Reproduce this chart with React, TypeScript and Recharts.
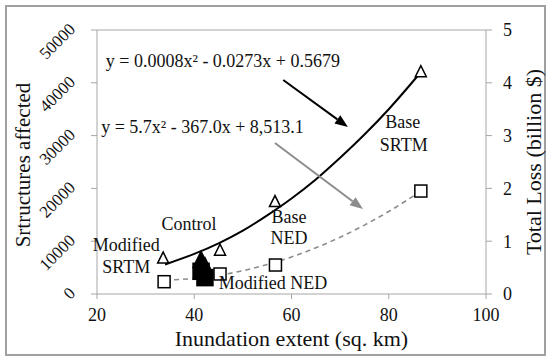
import React from "react";
import {
    ComposedChart,
    Line,
    ReferenceDot,
    ReferenceLine,
    Scatter,
    XAxis,
    YAxis,
} from "recharts";

// tick labels
const xTicks = [20, 40, 60, 80, 100];
const structTicks = [0, 10000, 20000, 30000, 40000, 50000];
const lossTicks = [0, 1, 2, 3, 4, 5];

// total loss (triangles, right axis)
const lossX = [33.6, 45.3, 56.6, 86.6];
const lossY = [0.68, 0.83, 1.75, 4.21];

// structures affected (squares, left axis)
const structX = [33.8, 45.3, 56.7, 86.6];
const structY = [2330, 3790, 5490, 19500];

// control run (filled markers)
const controlX = [41.4, 42.2];
const controlLoss = [0.64, 0.52];
const controlStruct = [4300, 3100];

// fitted trend lines
const fitX = [34, 40, 45, 50, 55, 60, 65, 70, 75, 80, 86.5];
const lossFit = [0.56, 0.76, 0.96, 1.2, 1.49, 1.81, 2.17, 2.58, 3.02, 3.5, 4.19];
const structFit = [2620, 2950, 3540, 4410, 5570, 7010, 8740, 10750, 13050, 15630, 19420];

const zip = (xs: number[], ys: number[]) => xs.map((x, i) => ({ x, y: ys[i] }));

const FONT = "'Liberation Serif', 'Times New Roman', serif";
const AXIS = "#a6a6a6";
const INK = "#111";

const Triangle = (props: any) => {
    const { cx, cy, filled, w = 11 } = props;
    return (
        <polygon
            points={`${cx},${cy - w * 0.55} ${cx - w / 2},${cy + w * 0.45} ${cx + w / 2},${cy + w * 0.45}`}
            fill={filled ? "#000" : "#fff"}
            stroke="#000"
            strokeWidth={1.5}
        />
    );
};

const Square = (props: any) => {
    const { cx, cy, filled, w = 12 } = props;
    return (
        <rect
            x={cx - w / 2}
            y={cy - w / 2}
            width={w}
            height={w}
            fill={filled ? "#000" : "#fff"}
            stroke="#000"
            strokeWidth={1.5}
        />
    );
};

const LeftTick = ({ x, y, payload }: any) => {
    const ax = x - 17;
    const ay = y - 4;
    return (
        <text
            x={ax}
            y={ay}
            dy="0.35em"
            textAnchor="end"
            transform={`rotate(-45 ${ax} ${ay})`}
            fill={INK}
            fontSize={17}
            fontFamily={FONT}
        >
            {payload.value}
        </text>
    );
};

const Arrow = (color: string) => (p: any) => {
    const { x1, y1, x2, y2 } = p;
    const ang = Math.atan2(y2 - y1, x2 - x1);
    const len = 13;
    const hw = 5;
    const bx = x2 - len * Math.cos(ang);
    const by = y2 - len * Math.sin(ang);
    const px = -Math.sin(ang) * hw;
    const py = Math.cos(ang) * hw;
    return (
        <g>
            <line x1={x1} y1={y1} x2={bx} y2={by} stroke={color} strokeWidth={2} />
            <polygon
                points={`${x2},${y2} ${bx + px},${by + py} ${bx - px},${by - py}`}
                fill={color}
            />
        </g>
    );
};

const notes = [
    { x: 45.9, y: 44130, text: "y = 0.0008x² - 0.0273x + 0.5679" },
    { x: 41.7, y: 31630, text: "y = 5.7x² - 367.0x + 8,513.1" },
    { x: 82.9, y: 32580, text: "Base" },
    { x: 83.1, y: 28220, text: "SRTM" },
    { x: 59.5, y: 14580, text: "Base" },
    { x: 59.5, y: 10610, text: "NED" },
    { x: 38.9, y: 13260, text: "Control" },
    { x: 26.0, y: 9280, text: "Modified" },
    { x: 26.0, y: 5110, text: "SRTM" },
    { x: 56.2, y: 2080, text: "Modified NED" },
];

const noteShape = (text: string) => (p: any) => (
    <text
        x={p.cx}
        y={p.cy}
        dy="0.35em"
        textAnchor="middle"
        fill={INK}
        fontSize={18}
        fontFamily={FONT}
    >
        {text}
    </text>
);

const App = () => {
    return (
        <div style={{ position: "absolute", left: 0, top: 0, width: 550, height: 362, background: "#fff" }}>
            <div
                style={{
                    position: "absolute",
                    left: 5,
                    top: 5,
                    width: 537,
                    height: 347,
                    border: "2px solid #a0a0a0",
                }}
            />
            <div style={{ position: "absolute", left: 0, top: 0 }}>
                <ComposedChart
                    width={550}
                    height={362}
                    margin={{ top: 30, right: 0, bottom: 13, left: 0 }}
                    style={{ fontFamily: FONT }}
                >
                    <XAxis
                        dataKey="x"
                        type="number"
                        domain={[20, 100]}
                        ticks={xTicks}
                        stroke={AXIS}
                        tickSize={5}
                        tickMargin={9}
                        height={55}
                        tick={{ fill: INK, fontSize: 18, fontFamily: FONT }}
                        label={{
                            content: ({ viewBox }: any) => (
                                <text
                                    x={viewBox.x + viewBox.width / 2}
                                    y={viewBox.y + viewBox.height - 3}
                                    textAnchor="middle"
                                    fill={INK}
                                    fontSize={22}
                                    fontFamily={FONT}
                                >
                                    Inundation  extent (sq. km)
                                </text>
                            ),
                        }}
                    />
                    <YAxis
                        yAxisId="left"
                        type="number"
                        domain={[0, 50000]}
                        ticks={structTicks}
                        width={97}
                        stroke={AXIS}
                        tickSize={6}
                        tick={<LeftTick />}
                        label={{
                            content: ({ viewBox }: any) => (
                                <text
                                    x={viewBox.x + 23}
                                    y={viewBox.y + viewBox.height / 2 + 3}
                                    dy="0.35em"
                                    textAnchor="middle"
                                    transform={`rotate(-90 ${viewBox.x + 23} ${viewBox.y + viewBox.height / 2 + 3})`}
                                    fill={INK}
                                    fontSize={21}
                                    fontFamily={FONT}
                                >
                                    Srtructures  affected
                                </text>
                            ),
                        }}
                    />
                    <YAxis
                        yAxisId="right"
                        orientation="right"
                        type="number"
                        domain={[0, 5]}
                        ticks={lossTicks}
                        width={64}
                        stroke={AXIS}
                        tickSize={6}
                        tickMargin={11}
                        tick={{ fill: INK, fontSize: 18, fontFamily: FONT }}
                        label={{
                            content: ({ viewBox }: any) => (
                                <text
                                    x={viewBox.x + 47}
                                    y={viewBox.y + viewBox.height / 2}
                                    dy="0.35em"
                                    textAnchor="middle"
                                    transform={`rotate(-90 ${viewBox.x + 47} ${viewBox.y + viewBox.height / 2})`}
                                    fill={INK}
                                    fontSize={22}
                                    fontFamily={FONT}
                                >
                                    Total Loss (billion $)
                                </text>
                            ),
                        }}
                    />
                    <ReferenceLine yAxisId="left" y={50000} stroke={AXIS} />

                    <Line
                        yAxisId="left"
                        data={zip(fitX, structFit)}
                        dataKey="y"
                        type="monotone"
                        stroke="#8c8c8c"
                        strokeWidth={1.6}
                        strokeDasharray="5 4"
                        dot={false}
                        isAnimationActive={false}
                    />
                    <Line
                        yAxisId="right"
                        data={zip(fitX, lossFit)}
                        dataKey="y"
                        type="monotone"
                        stroke="#000"
                        strokeWidth={2}
                        dot={false}
                        isAnimationActive={false}
                    />

                    <Scatter
                        yAxisId="left"
                        data={zip(structX, structY)}
                        dataKey="y"
                        shape={<Square />}
                        isAnimationActive={false}
                    />
                    <Scatter
                        yAxisId="right"
                        data={zip(lossX, lossY)}
                        dataKey="y"
                        shape={<Triangle />}
                        isAnimationActive={false}
                    />
                    <Scatter
                        yAxisId="left"
                        data={zip(controlX, controlStruct)}
                        dataKey="y"
                        shape={<Square filled w={16} />}
                        isAnimationActive={false}
                    />
                    <Scatter
                        yAxisId="right"
                        data={zip(controlX, controlLoss)}
                        dataKey="y"
                        shape={<Triangle filled w={16} />}
                        isAnimationActive={false}
                    />

                    <ReferenceLine
                        yAxisId="left"
                        segment={[
                            { x: 58.3, y: 40530 },
                            { x: 71.6, y: 31630 },
                        ]}
                        shape={Arrow("#000")}
                    />
                    <ReferenceLine
                        yAxisId="left"
                        segment={[
                            { x: 56.6, y: 28600 },
                            { x: 74.7, y: 16100 },
                        ]}
                        shape={Arrow("#8c8c8c")}
                    />

                    {notes.map((n, i) => (
                        <ReferenceDot
                            key={i}
                            yAxisId="left"
                            x={n.x}
                            y={n.y}
                            r={0}
                            shape={noteShape(n.text)}
                        />
                    ))}
                </ComposedChart>
            </div>
        </div>
    );
};

export default App;
